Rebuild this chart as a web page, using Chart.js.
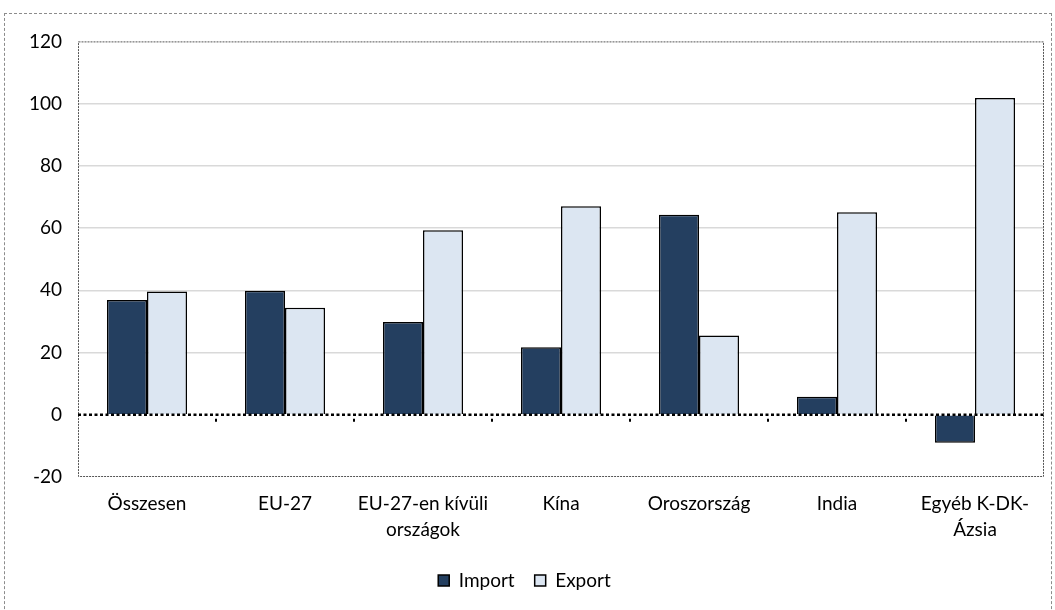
<!DOCTYPE html>
<html>
<head>
<meta charset="utf-8">
<script src="https://cdn.jsdelivr.net/npm/chart.js@4/dist/chart.umd.min.js"></script>
<style>
  body { margin: 0; background: #fff; }
  #box {
    position: absolute; left: 4px; top: 13px; width: 1046px; height: 620px;
    border: 1px dashed #8c8c8c; border-bottom: none;
  }
  #wrap { position: absolute; left: 0; top: 0; width: 1046px; height: 597px; }
</style>
</head>
<body>
<div id="box"><div id="wrap"><canvas id="chart"></canvas></div></div>
<script>
let categories = ["Összesen", "EU-27", ["EU-27-en kívüli", "országok"], "Kína", "Oroszország", "India", ["Egyéb K-DK-", "Ázsia"]];
let importValues = [36.9, 39.9, 29.8, 21.7, 64.3, 5.8, -9.0];
let exportValues = [39.6, 34.4, 59.3, 67.0, 25.5, 65.1, 101.8];
let yTicks = [-20, 0, 20, 40, 60, 80, 100, 120];

// dotted zero line, category tick marks and dotted plot frame
const zeroLine = {
  id: "zeroLine",
  beforeDatasetsDraw(chart) {
    let ctx = chart.ctx;
    let a = chart.chartArea;
    ctx.save();
    ctx.strokeStyle = "#555";
    ctx.lineWidth = 1;
    ctx.setLineDash([2, 1]);
    ctx.strokeRect(a.left + 0.5, a.top + 0.5, a.right - a.left - 1, a.bottom - a.top - 1);
    ctx.restore();
  },
  afterDatasetsDraw(chart) {
    let ctx = chart.ctx;
    let a = chart.chartArea;
    let x = chart.scales.x;
    let y0 = chart.scales.y.getPixelForValue(0);
    ctx.save();
    ctx.strokeStyle = "#000";
    ctx.lineWidth = 2.5;
    ctx.setLineDash([3, 2.5]);
    ctx.beginPath();
    ctx.moveTo(a.left, y0);
    ctx.lineTo(a.right, y0);
    ctx.stroke();
    ctx.setLineDash([]);
    ctx.lineWidth = 2;
    for (let i = 0; i < categories.length - 1; i++) {
      let xb = (x.getPixelForValue(i) + x.getPixelForValue(i + 1)) / 2;
      ctx.beginPath();
      ctx.moveTo(xb, y0 + 4);
      ctx.lineTo(xb, y0 + 7);
      ctx.stroke();
    }
    ctx.restore();
  }
};

let ctx = document.getElementById("chart").getContext("2d");
new Chart(ctx, {
  type: "bar",
  data: {
    labels: categories,
    datasets: [
      { label: "Import", data: importValues, backgroundColor: "#243f60", borderColor: "#000", borderWidth: 1.5 },
      { label: "Export", data: exportValues, backgroundColor: "#dce6f2", borderColor: "#000", borderWidth: 1.5 }
    ]
  },
  options: {
    responsive: true,
    maintainAspectRatio: false,
    animation: false,
    layout: { padding: { left: 0, right: 7, top: 22, bottom: 11 } },
    datasets: { bar: { categoryPercentage: 0.58, barPercentage: 1.0 } },
    plugins: {
      legend: {
        position: "bottom",
        labels: {
          font: { family: "Lato", size: 19 },
          color: "#000",
          boxWidth: 11, boxHeight: 11,
          padding: 20,
          generateLabels(chart) {
            return chart.data.datasets.map((d, i) => ({
              text: d.label, fillStyle: d.backgroundColor, strokeStyle: "#000",
              lineWidth: 1.5, datasetIndex: i, fontColor: "#000"
            }));
          }
        }
      },
      tooltip: { enabled: false }
    },
    scales: {
      x: {
        afterFit(axis) { axis.height = 74; },
        grid: { display: false, drawTicks: false },
        border: { display: false },
        ticks: { font: { family: "Lato", size: 19, lineHeight: 1.37 }, color: "#000", padding: 14, maxRotation: 0, autoSkip: false }
      },
      y: {
        min: -20, max: 120,
        afterBuildTicks(axis) { axis.ticks = yTicks.map(v => ({ value: v })); },
        afterFit(axis) { axis.width = 73; },
        grid: {
          drawTicks: false,
          color: ctx => (ctx.tick && (ctx.tick.value === 0 || ctx.tick.value === -20 || ctx.tick.value === 120)) ? "rgba(0,0,0,0)" : "#d9d9d9",
          lineWidth: 1.5
        },
        border: { display: false },
        ticks: { font: { family: "Lato", size: 19 }, color: "#000", padding: 16 }
      }
    }
  },
  plugins: [zeroLine]
});
</script>
</body>
</html>
